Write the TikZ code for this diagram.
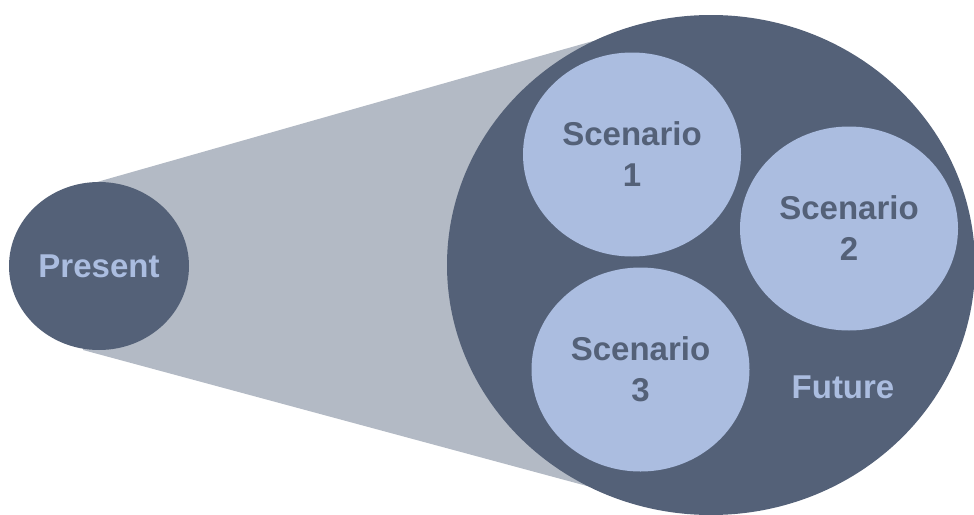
\documentclass[tikz,border=0pt]{standalone}
\usepackage{fontspec}
\setmainfont{Liberation Sans}
\usetikzlibrary{shapes.geometric}
\definecolor{slate}{HTML}{546178}
\definecolor{cone}{HTML}{B3BAC5}
\definecolor{scen}{HTML}{ABBDE0}
\tikzset{
  darkblob/.style={ellipse, fill=slate, draw=none, inner sep=0pt},
  scenblob/.style={ellipse, fill=scen, draw=none, inner sep=0pt,
    minimum width=218pt, minimum height=204pt,
    text=slate, align=center, font=\fontsize{33}{41}\selectfont\bfseries},
  lighttext/.style={text=scen, font=\fontsize{33}{41}\selectfont\bfseries, inner sep=0pt}
}
\begin{document}
\begin{tikzpicture}[x=1pt,y=-1pt]
\useasboundingbox (0,0) rectangle (974,514);
% cone
\coordinate (c1) at (97,182);
\coordinate (c2) at (593,41);
\coordinate (c3) at (587,486);
\coordinate (c4) at (83,350);
\fill[cone] (c1) -- (c2) -- (c3) -- (c4) -- cycle;
% future
\node[darkblob, minimum width=528pt, minimum height=500pt] (future) at (711,265) {};
% present
\node[darkblob, minimum width=180pt, minimum height=168pt] (presentblob) at (99,266) {};
\node[lighttext] (present) at (99,266.5) {Present};
% scenarios
\node[scenblob] (s1) at (632,154.5) {Scenario\\1};
\node[scenblob] (s2) at (849,228.5) {Scenario\\2};
\node[scenblob] (s3) at (640.5,369.5) {Scenario\\3};
\node[lighttext] (futuretext) at (843,387.5) {Future};
\end{tikzpicture}
\end{document}
